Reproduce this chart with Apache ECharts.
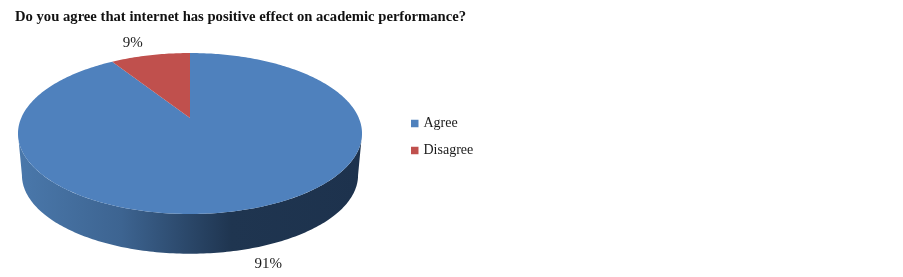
<!DOCTYPE html>
<html><head><meta charset="utf-8">
<style>html,body{margin:0;padding:0;background:#fff}#c{width:903px;height:277px}</style>
<script src="https://cdn.jsdelivr.net/npm/echarts@6/dist/echarts.min.js"></script>
</head><body><div id="c"></div>
<script>
const categories = ['Agree', 'Disagree'];
const values = [91, 9];
const colors = ['#4f81bd', '#c0504d'];
const titleText = 'Do you agree that internet has positive effect on academic performance?';

const total = values.reduce((a, b) => a + b, 0);
const FONT = '"Liberation Serif","Times New Roman",serif';
// Projected pie geometry (perspective disc seen from above)
const apex = [190, 118], R = 168.8, A = 77.5, K = 0.1925;
const depthDy = 42, depthScale = 0.977;
const labelOffsets = [[20.5, 55], [-17.5, -12]];
function topPoint(t) { // t: clockwise angle from 12 o'clock, radians
  const s = Math.sin(t), c = Math.cos(t), w = 1 + K * c;
  return [apex[0] + R * s / w, apex[1] - A * c / w];
}
function bottomPoint(t) {
  const s = Math.sin(t), c = Math.cos(t), w = 1 + K * c;
  return [apex[0] + depthScale * R * s / w, apex[1] + depthDy - depthScale * A * c / w];
}
function arc(f, a0, a1) {
  const n = Math.max(2, Math.ceil(Math.abs(a1 - a0) * 60)), pts = [];
  for (let i = 0; i <= n; i++) pts.push(f(a0 + (a1 - a0) * i / n));
  return pts;
}
function makeRender(idx) {
  return function (params, api) {
    let before = 0;
    for (let i = 0; i < idx; i++) before += values[i];
    const v = api.value(0);
    const a0 = before / total * 2 * Math.PI, a1 = (before + v) / total * 2 * Math.PI;
    const children = [];
    // front wall: only the part of the slice facing the viewer
    const wA = Math.max(a0, Math.PI / 2 + Math.asin(K));
    const wB = Math.min(a1, 3 * Math.PI / 2 - Math.asin(K));
    if (wB > wA) {
      const pts = arc(topPoint, wA, wB).concat(arc(bottomPoint, wA, wB).reverse());
      children.push({
        type: 'polygon', shape: { points: pts },
        style: {
          fill: new echarts.graphic.LinearGradient(0, 0, 1, 0, [
            { offset: 0, color: '#4a78ab' },
            { offset: 0.30, color: '#3d6491' },
            { offset: 0.62, color: '#1f3550' },
            { offset: 1, color: '#1d324d' }
          ])
        }
      });
    }
    const topPts = [apex].concat(arc(topPoint, a0, a1));
    children.push({ type: 'polygon', shape: { points: topPts }, style: { fill: colors[idx] } });
    const mid = topPoint((a0 + a1) / 2);
    const off = labelOffsets[idx];
    children.push({
      type: 'text',
      style: {
        text: Math.round(v / total * 100) + '%',
        x: mid[0] + off[0], y: mid[1] + off[1],
        align: 'center', verticalAlign: 'middle',
        fill: '#1a1a1a', font: '15px ' + FONT
      }
    });
    return { type: 'group', children };
  };
}
const chart = echarts.init(document.getElementById('c'), null, { renderer: 'canvas' });
chart.setOption({
  animation: false,
  backgroundColor: '#fff',
  title: {
    text: titleText, left: 15, top: 10, padding: 0,
    textStyle: { fontFamily: FONT, fontSize: 14.65, fontWeight: 'bold', color: '#111' }
  },
  legend: {
    data: categories, orient: 'vertical', left: 411, top: 114, padding: 0,
    itemWidth: 7.5, itemHeight: 7.5, itemGap: 8, icon: 'rect',
    selectedMode: false,
    textStyle: { fontFamily: FONT, fontSize: 14, color: '#1a1a1a', lineHeight: 17, padding: [2, 0, 0, 0] }
  },
  series: categories.map((name, i) => ({
    type: 'custom', name, coordinateSystem: 'none', silent: true,
    itemStyle: { color: colors[i] },
    z: i === 0 ? 2 : 3,
    renderItem: makeRender(i),
    data: [[values[i]]]
  }))
});
</script></body></html>
